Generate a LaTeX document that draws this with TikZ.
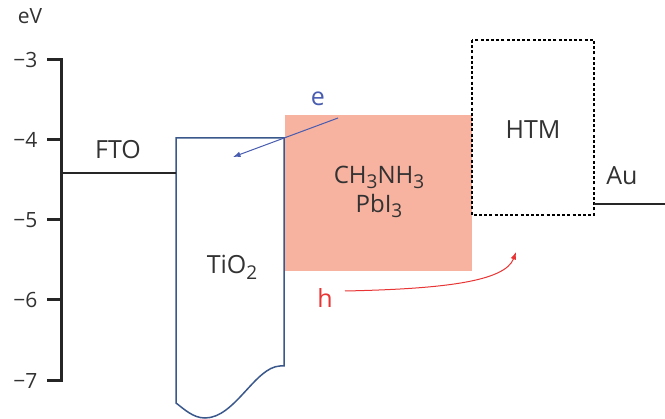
\documentclass[tikz,border=0pt]{standalone}
\usepackage{fontspec}
\setmainfont{Open Sans}
\usetikzlibrary{arrows.meta,positioning}
\definecolor{bandblue}{RGB}{58,88,140}
\definecolor{elblue}{RGB}{72,92,176}
\definecolor{holered}{RGB}{232,52,52}
\definecolor{perov}{RGB}{247,178,160}
\definecolor{txtgray}{RGB}{50,50,50}
\newcommand{\lowsub}[1]{\raisebox{-0.45ex}{\fontsize{19}{20}\selectfont #1}}
\begin{document}
\begin{tikzpicture}[x=1pt,y=-1pt,>=Latex,every node/.style={align=center,text=txtgray},
    lbl/.style={font=\fontsize{25}{28}\selectfont},
    ticklbl/.style={font=\fontsize{21}{24}\selectfont,anchor=east},
    level/.style={line width=2.4pt,black!85}]
    \useasboundingbox (0,0) rectangle (665,419);
    % axis
    \draw[line width=3pt,black!85] (61,58.5) -- (61,382.5);
    \foreach \v/\y in {3/60,4/140,5/220,6/300,7/381}{
      \draw[line width=3pt,black!85] (47,\y) -- (61,\y);
      \node[ticklbl] (t\v) at (41,\y) {−\v};
    }
    \node[ticklbl,anchor=center] (ev) at (30,16) {eV};
    % layers
    \fill[perov] (285,115) rectangle (472,271);
    \draw[bandblue,line width=1.5pt,fill=white] (176,138) -- (284,138) -- (284,366) -- (280,366)
      .. controls (255,367) and (235,418) .. (205,418) .. controls (193,418) and (184,409) .. (176,403) -- cycle;
    \draw[line width=2pt,dash pattern=on 3pt off 2.2pt] (472,40) rectangle (594,215);
    \draw[level] (61,173) -- (176,173);
    \draw[level] (594,204) -- (665,204);
    % labels
    \node[lbl] (fto) at (118,150) {FTO};
    \node[lbl] (tio) at (232,267) {TiO\lowsub{2}};
    \node[lbl,font=\fontsize{24}{29}\selectfont] (mapi) at (379,192) {CH\lowsub{3}NH\lowsub{3}\\PbI\lowsub{3}};
    \node[lbl] (htm) at (533,130) {HTM};
    \node[lbl] (au) at (622,176) {Au};
    \node[lbl,text=elblue] (e) at (318,99) {e};
    \node[lbl,text=holered] (h) at (325,298) {h};
    % carriers
    \coordinate (estart) at (338,118);
    \coordinate (eend) at (233,157);
    \coordinate (hstart) at (345,291);
    \coordinate (hend) at (516,252);
    \draw[->,elblue,line width=1pt] (estart) -- (eend);
    \draw[->,holered,line width=1pt] (hstart) .. controls (440,289) and (505,282) .. (hend);
  \end{tikzpicture}
\end{document}
